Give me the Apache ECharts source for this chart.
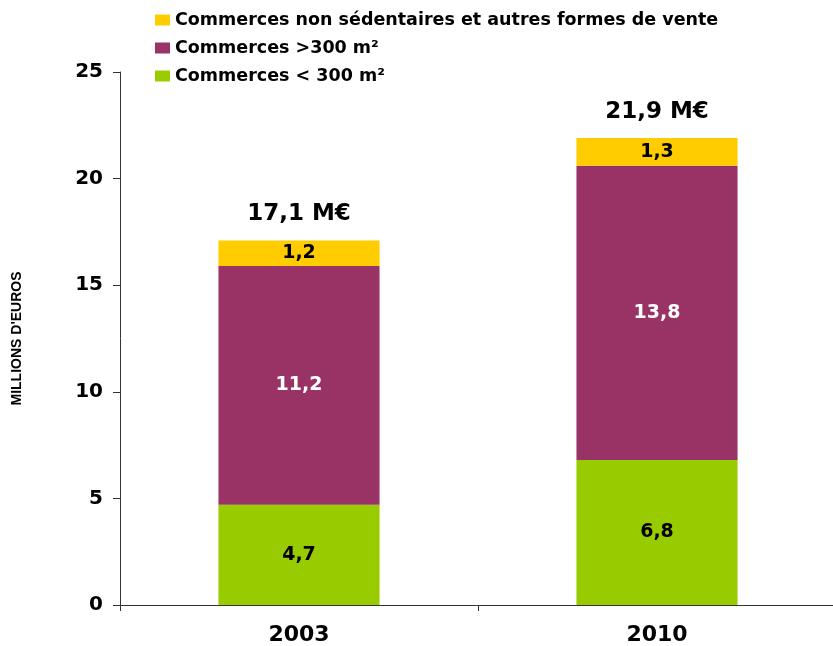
<!DOCTYPE html>
<html>
<head>
<meta charset="utf-8">
<script src="https://cdn.jsdelivr.net/npm/echarts@6/dist/echarts.min.js"></script>
<style>
  html, body { margin: 0; padding: 0; background: #fff; }
  #chart { width: 833px; height: 646px; }
</style>
</head>
<body>
<div id="chart"></div>
<script>
var years = ['2003', '2010']
var petits = [4.7, 6.8]      // Commerces < 300 m²
var grands = [11.2, 13.8]    // Commerces >300 m²
var autres = [1.2, 1.3]      // non sédentaires et autres
var yTicks = [0, 5, 10, 15, 20, 25]

var names = ['Commerces non sédentaires et autres formes de vente', 'Commerces >300 m²', 'Commerces < 300 m²']
var font = '"DejaVu Sans", Arial, sans-serif'

function fr (v) {
  return String(v).replace('.', ',')
}

var totals = years.map(function (y, i) {
  return Math.round((petits[i] + grands[i] + autres[i]) * 10) / 10
})

function barLabel (color) {
  return {
    show: true,
    position: 'inside',
    color: color,
    fontFamily: font,
    fontWeight: 'bold',
    fontSize: 19,
    formatter: function (p) { return fr(p.value) }
  }
}

var chart = echarts.init(document.getElementById('chart'))
chart.setOption({
  animation: false,
  textStyle: { fontFamily: font },
  legend: {
    data: names,
    orient: 'vertical',
    left: 150,
    top: 6,
    icon: 'rect',
    itemWidth: 15,
    itemHeight: 11,
    itemGap: 10,
    textStyle: { fontFamily: font, fontWeight: 'bold', fontSize: 17.5, color: '#000' }
  },
  grid: { left: 120, right: -3, top: 72, bottom: 41, outerBoundsMode: 'none' },
  xAxis: {
    type: 'category',
    data: years,
    axisLine: { lineStyle: { color: '#333', width: 1 } },
    axisTick: { show: true, length: 6, lineStyle: { color: '#333' } },
    axisLabel: { color: '#000', fontFamily: font, fontWeight: 'bold', fontSize: 22, margin: 19 }
  },
  yAxis: {
    type: 'value',
    min: yTicks[0],
    max: yTicks[yTicks.length - 1],
    interval: 5,
    name: "MILLIONS D'EUROS",
    nameLocation: 'middle',
    nameGap: 96,
    nameRotate: 90,
    nameTextStyle: { fontFamily: '"Liberation Sans Narrow", "Arial Narrow", Arial, sans-serif', fontWeight: 'bold', fontSize: 14, color: '#000' },
    axisLine: { show: true, lineStyle: { color: '#333', width: 1 } },
    axisTick: { show: true, length: 7, lineStyle: { color: '#333' } },
    splitLine: { show: false },
    axisLabel: { color: '#000', fontFamily: font, fontWeight: 'bold', fontSize: 20, margin: 17 }
  },
  series: [
    {
      name: names[2], type: 'bar', stack: 'tot', barWidth: '45%',
      itemStyle: { color: '#99CC00' },
      label: barLabel('#000'),
      data: petits
    },
    {
      name: names[1], type: 'bar', stack: 'tot',
      itemStyle: { color: '#993366' },
      label: barLabel('#fff'),
      data: grands
    },
    {
      name: names[0], type: 'bar', stack: 'tot',
      itemStyle: { color: '#FFCC00' },
      label: barLabel('#000'),
      data: autres
    },
    {
      name: 'total', type: 'bar', stack: 'tot',
      itemStyle: { color: 'transparent' },
      label: {
        show: true,
        position: 'top',
        distance: 15,
        color: '#000',
        fontFamily: font,
        fontWeight: 'bold',
        fontSize: 23,
        formatter: function (p) { return fr(totals[p.dataIndex]) + ' M€' }
      },
      data: years.map(function () { return 0 })
    }
  ]
})
</script>
</body>
</html>
